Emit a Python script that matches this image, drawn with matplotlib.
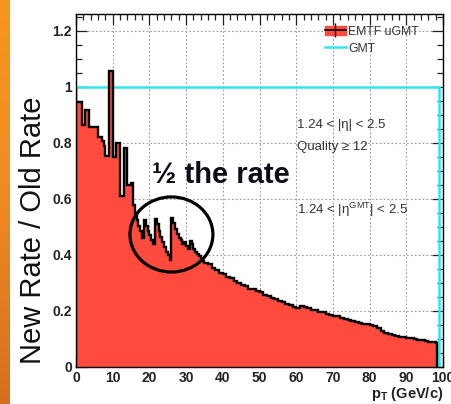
import numpy as np
import matplotlib
matplotlib.use('Agg')
import matplotlib.pyplot as plt
from matplotlib.patches import Ellipse, Patch
from matplotlib.lines import Line2D
from matplotlib.ticker import MultipleLocator, FixedLocator, FixedFormatter
from matplotlib.colors import LinearSegmentedColormap

plt.rcParams['font.family'] = ['Liberation Sans', 'DejaVu Sans']
plt.rcParams['mathtext.fontset'] = 'custom'
plt.rcParams['mathtext.rm'] = 'Liberation Sans'
plt.rcParams['mathtext.bf'] = 'Liberation Sans:bold'

# EMTF uGMT / GMT rate ratio, 0.5 GeV bins up to 35 GeV
low_edges = np.arange(0, 35, 0.5)
low_ratio = [0.947, 0.947, 0.947, 0.865, 0.865, 0.918, 0.918, 0.858, 0.858, 0.858,
             0.858, 0.858, 0.822, 0.822, 0.805, 0.790, 0.752, 0.752, 1.055, 1.055,
             0.748, 0.748, 0.800, 0.800, 0.612, 0.612, 0.780, 0.780, 0.650, 0.650,
             0.655, 0.580, 0.550, 0.525, 0.505, 0.485, 0.462, 0.525, 0.505, 0.485,
             0.470, 0.455, 0.440, 0.530, 0.510, 0.485, 0.465, 0.445, 0.430, 0.412,
             0.398, 0.382, 0.532, 0.515, 0.492, 0.476, 0.462, 0.455, 0.440, 0.446,
             0.432, 0.422, 0.450, 0.440, 0.422, 0.410, 0.402, 0.395, 0.386, 0.380]

# 1 GeV bins from 35 GeV on
high_edges = np.arange(35, 99, 1.0)
high_ratio = [0.372, 0.366, 0.354, 0.347, 0.337, 0.331, 0.321, 0.316, 0.307, 0.301,
              0.294, 0.288, 0.279, 0.277, 0.271, 0.267, 0.257, 0.253, 0.246, 0.243,
              0.235, 0.233, 0.225, 0.221, 0.213, 0.212, 0.219, 0.215, 0.211, 0.205,
              0.203, 0.197, 0.195, 0.189, 0.187, 0.182, 0.181, 0.175, 0.173, 0.167,
              0.165, 0.159, 0.158, 0.154, 0.154, 0.149, 0.147, 0.138, 0.128, 0.122,
              0.119, 0.113, 0.112, 0.107, 0.106, 0.103, 0.103, 0.099, 0.098, 0.095,
              0.094, 0.090, 0.089, 0.085]

edges = np.concatenate([low_edges, high_edges, [98.5]])
ratio = np.array(low_ratio + high_ratio)

gmt_edges = [0, 99]
gmt_ratio = [1.0]

red = '#ff4b3e'
cyan = '#2ee6f2'

fig = plt.figure(figsize=(4.52, 4.04), dpi=100)

# orange slide stripe on the left
sax = fig.add_axes([0, 0, 10 / 452, 1])
cmap = LinearSegmentedColormap.from_list('stripe', ['#f7961f', '#ef8a22', '#d56f1e'])
sax.imshow(np.linspace(0, 1, 100).reshape(-1, 1), aspect='auto', cmap=cmap)
sax.axis('off')

ax = fig.add_axes([76 / 452, 37 / 404, 367 / 452, 353 / 404])

ax.stairs(gmt_ratio, gmt_edges, color=cyan, lw=1.8, zorder=1.5)
ax.stairs(ratio, edges, fill=True, color=red, zorder=2)
ax.stairs(ratio, edges, color='black', lw=1.7, zorder=3)

ax.set_xlim(0, 100)
ax.set_ylim(0, 1.26)

ax.xaxis.set_major_locator(MultipleLocator(10))
ax.xaxis.set_minor_locator(MultipleLocator(2))
ax.yaxis.set_major_locator(FixedLocator([0, 0.2, 0.4, 0.6, 0.8, 1.0, 1.2]))
ax.yaxis.set_major_formatter(FixedFormatter(['0', '0.2', '0.4', '0.6', '0.8', '1', '1.2']))
ax.yaxis.set_minor_locator(MultipleLocator(0.05))
ax.tick_params(which='both', direction='in', top=True, right=True, width=0.9,
               labelsize=10, colors='#222222')
ax.tick_params(which='major', length=8, pad=3)
ax.tick_params(which='minor', length=4)
for lab in ax.get_xticklabels() + ax.get_yticklabels():
    lab.set_fontweight('bold')

ax.grid(True, which='major', color='#9a9a9a', linestyle=(0, (1.5, 2)), lw=0.8, zorder=0)
ax.set_axisbelow(True)
for sp in ax.spines.values():
    sp.set_linewidth(1.0)
    sp.set_zorder(2.5)

ax.text(1.0, -0.076, r'p$_{\mathbf{T}}$ (GeV/c)', transform=ax.transAxes,
        ha='right', va='center', fontsize=10.5, fontweight='bold', color='#222222')

fig.text(33 / 452, 0.431, 'New Rate / Old Rate', rotation=90, ha='center', va='center',
         fontsize=21, color='#111111')

handles = [(Patch(facecolor=red, edgecolor=red),
            Line2D([], [], color='black', marker='|', markersize=10, lw=1.2)),
           Line2D([], [], color=cyan, lw=1.8)]
ax.legend(handles, ['EMTF uGMT', 'GMT'], loc='upper left', bbox_to_anchor=(0.678, 0.967),
          frameon=False, fontsize=8.8, handlelength=1.7, handletextpad=0.2,
          labelspacing=0.4, borderpad=0, borderaxespad=0, labelcolor='#333333')

ax.text(0.602, 0.686, '1.24 < |η| < 2.5', transform=ax.transAxes, fontsize=9.5,
        color='#333333', va='center')
ax.text(0.602, 0.623, 'Quality ≥ 12', transform=ax.transAxes, fontsize=9.5,
        color='#333333', va='center')
ax.text(0.602, 0.445, r'1.24 < |η$^{\rm GMT}$| < 2.5', transform=ax.transAxes,
        fontsize=9.5, color='#333333', va='center')

ax.text(0.207, 0.544, '½ the rate', transform=ax.transAxes, fontsize=21,
        fontweight='bold', color='#0d0d1a', va='center', ha='left', zorder=6)

ax.add_patch(Ellipse((26.0, 0.473), 22.6, 0.268, fill=False, edgecolor='black',
                     lw=2.3, zorder=6))

fig.savefig('out.png', dpi=100)
